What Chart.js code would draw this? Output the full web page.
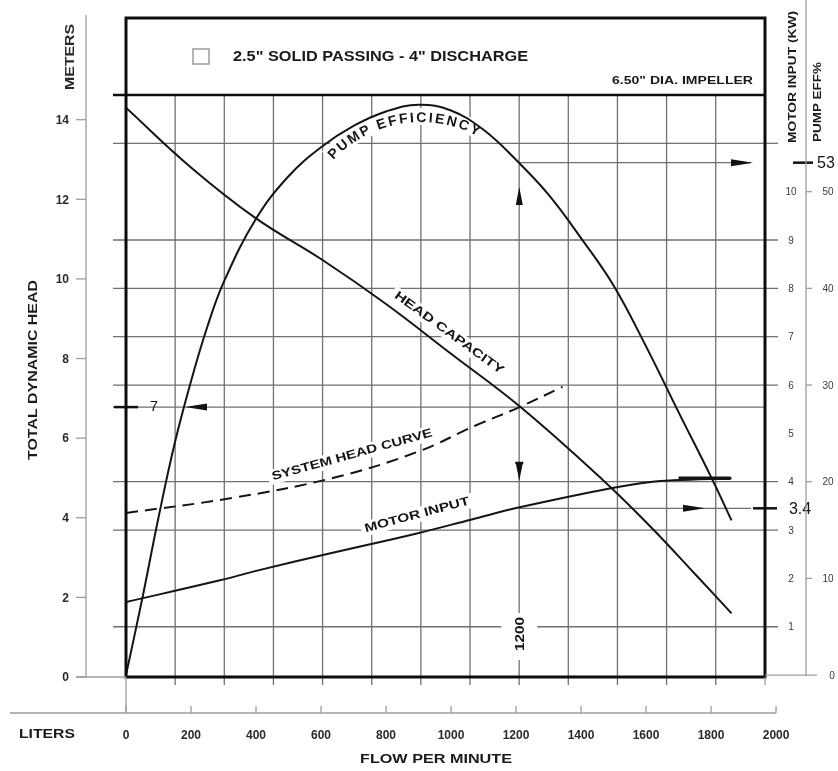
<!DOCTYPE html>
<html>
<head>
<meta charset="utf-8">
<script src="https://cdn.jsdelivr.net/npm/chart.js@4.4.0/dist/chart.umd.min.js"></script>
<style>
  html, body { margin: 0; padding: 0; background: #fff; }
  #wrap { width: 838px; height: 771px; }
</style>
</head>
<body>
<div id="wrap"><canvas id="pump" width="838" height="771"></canvas></div>
<script>
// flow (L/min) and curve values
const flowHead = [0, 200, 400, 600, 800, 1000, 1211, 1467, 1611, 1755, 1863];
const headCapacity = [14.3, 12.8, 11.52, 10.5, 9.37, 8.12, 6.8, 4.95, 3.8, 2.55, 1.6];

const flowEff = [0, 50, 100, 150, 200, 250, 300, 400, 500, 600, 700, 800, 900, 1000, 1100, 1200, 1300, 1400, 1500, 1600, 1700, 1800, 1863];
const pumpEff = [0, 7.9, 16.3, 24.0, 30.4, 36.0, 40.6, 47.2, 51.6, 54.6, 56.8, 58.3, 59.0, 58.4, 56.4, 53.3, 49.7, 45.2, 40.3, 34.0, 27.2, 20.5, 16.0];

const flowMotor = [0, 289, 397, 636, 895, 1064, 1211, 1488, 1620, 1682, 1863];
const motorInput = [1.51, 1.96, 2.15, 2.53, 2.93, 3.22, 3.47, 3.86, 4.0, 4.03, 4.07];
const flowMotorBar = [1700, 1860];
const motorBar = [4.07, 4.07];

const flowSystem = [0, 329, 636, 895, 1079, 1211, 1343];
const systemHead = [4.12, 4.5, 5.0, 5.65, 6.33, 6.78, 7.29];

// axis ticks
const headTicks = [0, 2, 4, 6, 8, 10, 12, 14];
const flowTicks = [0, 200, 400, 600, 800, 1000, 1200, 1400, 1600, 1800, 2000];
const kwTicks = [1, 2, 3, 4, 5, 6, 7, 8, 9, 10];
const effTicks = [0, 10, 20, 30, 40, 50];
const gridFlow = [151.2, 302.4, 453.6, 604.8, 756, 907.2, 1058.4, 1209.6, 1360.8, 1512, 1663.2, 1814.4];
const gridKW = [1, 3, 4, 6, 7, 8, 9, 11];

// duty point markers
const dutyFlow = 1210;
const dutyFlowLabel = '1200';
const dutyHead = 6.78;
const dutyHeadLabel = '7';
const dutyEff = 53;
const dutyEffLabel = '53';
const dutyKW = 3.45;
const dutyKWLabel = '3.4';

const FONT = '"Liberation Sans", Arial, sans-serif';

function pts(xs, ys) {
  return xs.map((v, i) => ({ x: v, y: ys[i] }));
}

function seg(ctx, x1, y1, x2, y2) {
  ctx.beginPath();
  ctx.moveTo(x1, y1);
  ctx.lineTo(x2, y2);
  ctx.stroke();
}

function rotText(ctx, txt, cx, cy, ang, font, w, color) {
  ctx.save();
  ctx.translate(cx, cy);
  ctx.rotate(ang * Math.PI / 180);
  ctx.font = font;
  ctx.fillStyle = color || '#151515';
  ctx.textAlign = 'center';
  ctx.textBaseline = 'middle';
  if (w) {
    const m = ctx.measureText(txt).width;
    ctx.scale(w / m, 1);
  }
  ctx.fillText(txt, 0, 0);
  ctx.restore();
}

function knock(ctx, cx, cy, ang, w, h) {
  ctx.save();
  ctx.translate(cx, cy);
  ctx.rotate(ang * Math.PI / 180);
  ctx.fillStyle = '#fff';
  ctx.fillRect(-w / 2, -h / 2, w, h);
  ctx.restore();
}

// text along an arc, baseline on circle (cx, cy, r) from angle a0 to a1 (deg, 0 = top)
function arcText(ctx, txt, cx, cy, r, a0, a1, font, knockOnly) {
  ctx.save();
  ctx.font = font;
  const chars = [...txt];
  const widths = chars.map(c => ctx.measureText(c).width);
  const total = widths.reduce((s, v) => s + v, 0);
  const span = (a1 - a0) * Math.PI / 180 * r;
  const extra = (span - total) / (chars.length - 1);
  let s = 0;
  chars.forEach((c, i) => {
    const ang = a0 * Math.PI / 180 + (s + widths[i] / 2) / r;
    const px = cx + r * Math.sin(ang);
    const py = cy - r * Math.cos(ang);
    ctx.save();
    ctx.translate(px, py);
    ctx.rotate(ang);
    if (knockOnly) {
      ctx.fillStyle = '#fff';
      ctx.fillRect(-widths[i] / 2 - 2, -14, widths[i] + 4, 17);
    } else {
      ctx.fillStyle = '#151515';
      ctx.textAlign = 'center';
      ctx.textBaseline = 'alphabetic';
      ctx.fillText(c, 0, 0);
    }
    ctx.restore();
    s += widths[i] + extra;
  });
  ctx.restore();
}

function arrow(ctx, tipX, tipY, dir, len, half) {
  ctx.beginPath();
  ctx.moveTo(tipX, tipY);
  if (dir === 'left') { ctx.lineTo(tipX + len, tipY - half); ctx.lineTo(tipX + len, tipY + half); }
  if (dir === 'right') { ctx.lineTo(tipX - len, tipY - half); ctx.lineTo(tipX - len, tipY + half); }
  if (dir === 'up') { ctx.lineTo(tipX - half, tipY + len); ctx.lineTo(tipX + half, tipY + len); }
  if (dir === 'down') { ctx.lineTo(tipX - half, tipY - len); ctx.lineTo(tipX + half, tipY - len); }
  ctx.closePath();
  ctx.fill();
}

// rotated curve labels: text, centre, angle, width
const curveLabels = [
  { t: 'HEAD CAPACITY', x: 449, y: 333, a: 36, w: 132 },
  { t: 'SYSTEM HEAD CURVE', x: 352, y: 455, a: -15.5, w: 166 },
  { t: 'MOTOR INPUT', x: 417, y: 515, a: -15, w: 108 }
];
const arcLabel = { t: 'PUMP EFFICIENCY', cx: 421, cy: 242, r: 120, a0: -47, a1: 28 };

const decor = {
  id: 'decor',
  beforeDatasetsDraw(chart) {
    const { ctx, chartArea: a, scales } = chart;
    const { x, y, yKW, yEff } = scales;
    ctx.save();
    // vertical grid
    ctx.strokeStyle = '#707070';
    ctx.lineWidth = 1.3;
    gridFlow.forEach(v => {
      const px = x.getPixelForValue(v);
      seg(ctx, px, a.top, px, a.bottom + 8);
    });
    // horizontal grid
    gridKW.forEach(v => {
      const py = yKW.getPixelForValue(v);
      seg(ctx, a.left - 13, py, a.right + 13, py);
    });
    // duty point lines
    const dx = x.getPixelForValue(dutyFlow);
    const hy = y.getPixelForValue(dutyHead);
    seg(ctx, a.left - 13, hy, a.right, hy);
    const ey = yEff.getPixelForValue(dutyEff);
    seg(ctx, dx, ey, a.right - 14, ey);
    const ky = yKW.getPixelForValue(dutyKW);
    seg(ctx, dx, ky, a.right - 14, ky);

    // knock out grid behind labels
    curveLabels.forEach(l => knock(ctx, l.x, l.y, l.a, l.w + 8, 15));
    arcText(ctx, arcLabel.t, arcLabel.cx, arcLabel.cy, arcLabel.r, arcLabel.a0, arcLabel.a1, 'bold 14px ' + FONT, true);
    ctx.fillStyle = '#fff';
    ctx.fillRect(dx - 18, 613, 36, 47);
    ctx.restore();
  },
  afterDatasetsDraw(chart) {
    const { ctx, chartArea: a, scales } = chart;
    const { x, y, yKW, yEff } = scales;
    ctx.save();

    // curve labels
    curveLabels.forEach(l => rotText(ctx, l.t, l.x, l.y, l.a, 'bold 12px ' + FONT, l.w));
    arcText(ctx, arcLabel.t, arcLabel.cx, arcLabel.cy, arcLabel.r, arcLabel.a0, arcLabel.a1, 'bold 14px ' + FONT, false);

    // duty markers
    const dx = x.getPixelForValue(dutyFlow);
    const hy = y.getPixelForValue(dutyHead);
    const ey = yEff.getPixelForValue(dutyEff);
    const ky = yKW.getPixelForValue(dutyKW);
    ctx.fillStyle = '#111';
    ctx.strokeStyle = '#111';
    arrow(ctx, a.left + 59, hy, 'left', 22, 3.5);
    arrow(ctx, a.right - 12, ey, 'right', 22, 3.5);
    arrow(ctx, a.right - 60, ky, 'right', 22, 3.5);
    arrow(ctx, dx, 187, 'up', 18, 3.5);
    arrow(ctx, dx, 481, 'down', 18, 3.5);
    ctx.lineWidth = 2.5;
    seg(ctx, dx - 4, 463, dx + 4, 463);
    seg(ctx, a.left - 12, hy, a.left + 12, hy);
    seg(ctx, 793, ey, 813, ey);
    seg(ctx, a.right - 12, ky, a.right + 12, ky);
    rotText(ctx, dutyHeadLabel, 154, hy, 0, '15px ' + FONT);
    rotText(ctx, dutyEffLabel, 826, ey + 1, 0, '16px ' + FONT);
    rotText(ctx, dutyKWLabel, 800, ky + 1, 0, '16px ' + FONT);
    rotText(ctx, dutyFlowLabel, dx + 1, 634, -90, 'bold 12px ' + FONT, 34);

    // plot frame + header box
    ctx.strokeStyle = '#0c0c0c';
    ctx.lineWidth = 3;
    ctx.strokeRect(a.left, 18, a.right - a.left, a.bottom - 18);
    ctx.lineWidth = 2.5;
    seg(ctx, a.left - 13, a.top, a.right, a.top);

    // header texts
    ctx.strokeStyle = '#9a9a9a';
    ctx.lineWidth = 1.5;
    ctx.strokeRect(193, 49, 16, 15);
    ctx.fillStyle = '#1a1a1a';
    ctx.font = 'bold 15px ' + FONT;
    ctx.textBaseline = 'middle';
    ctx.textAlign = 'left';
    let t = '2.5" SOLID PASSING - 4" DISCHARGE';
    let m = ctx.measureText(t).width;
    ctx.save();
    ctx.translate(233, 57);
    ctx.scale(295 / m, 1);
    ctx.fillText(t, 0, 0);
    ctx.restore();
    t = '6.50" DIA. IMPELLER';
    ctx.font = 'bold 11px ' + FONT;
    m = ctx.measureText(t).width;
    ctx.save();
    ctx.translate(612, 81);
    ctx.scale(141 / m, 1);
    ctx.fillText(t, 0, 0);
    ctx.restore();

    // left axis (meters)
    ctx.strokeStyle = '#9c9c9c';
    ctx.lineWidth = 1.3;
    seg(ctx, 86, 15, 86, a.bottom);
    seg(ctx, 76, a.bottom, a.left, a.bottom);
    seg(ctx, a.left, a.bottom, a.left, 713);
    seg(ctx, a.right, a.bottom, a.right, a.bottom + 8);
    ctx.fillStyle = '#2a2a2a';
    ctx.font = 'bold 12px ' + FONT;
    ctx.textAlign = 'right';
    headTicks.forEach(v => {
      const py = y.getPixelForValue(v);
      seg(ctx, 76, py, 86, py);
      ctx.fillText(String(v), 69, py + 1);
    });
    rotText(ctx, 'METERS', 71, 57, -90, 'bold 12px ' + FONT, 66, '#2a2a2a');
    rotText(ctx, 'TOTAL DYNAMIC HEAD', 33, 370, -90, 'bold 13px ' + FONT, 180, '#1a1a1a');

    // bottom axis (flow)
    seg(ctx, 10, 713, x.getPixelForValue(2000), 713);
    ctx.textAlign = 'center';
    ctx.fillStyle = '#2a2a2a';
    flowTicks.forEach(v => {
      const px = x.getPixelForValue(v);
      seg(ctx, px, 706, px, 713);
      ctx.fillText(String(v), px, 736);
    });
    rotText(ctx, 'LITERS', 47, 735, 0, 'bold 12px ' + FONT, 56, '#1a1a1a');
    rotText(ctx, 'FLOW PER MINUTE', 436, 760, 0, 'bold 12px ' + FONT, 152, '#1a1a1a');

    // right axes (motor kW + pump efficiency)
    seg(ctx, 806, 0, 806, a.bottom - 1);
    seg(ctx, a.right, yEff.getPixelForValue(0), 817, yEff.getPixelForValue(0));
    ctx.font = '10px ' + FONT;
    ctx.fillStyle = '#3a3a3a';
    kwTicks.forEach(v => {
      ctx.fillText(String(v), 791, yKW.getPixelForValue(v) + 1);
    });
    effTicks.forEach(v => {
      const py = yEff.getPixelForValue(v);
      if (v > 0) seg(ctx, 806, py, 812, py);
      ctx.fillText(String(v), v === 0 ? 832 : 828, py + 1);
    });
    rotText(ctx, 'MOTOR INPUT (KW)', 793, 77, -90, 'bold 11px ' + FONT, 132, '#1a1a1a');
    rotText(ctx, 'PUMP EFF%', 818, 102, -90, 'bold 11px ' + FONT, 80, '#1a1a1a');

    ctx.restore();
  }
};

const lineStyle = {
  borderColor: '#141414',
  borderWidth: 2,
  pointRadius: 0,
  fill: false,
  tension: 0.4
};

new Chart(document.getElementById('pump'), {
  type: 'line',
  data: {
    datasets: [
      Object.assign({ label: 'Head Capacity', data: pts(flowHead, headCapacity), yAxisID: 'y' }, lineStyle),
      Object.assign({ label: 'Pump Efficiency', data: pts(flowEff, pumpEff), yAxisID: 'yEff' }, lineStyle),
      Object.assign({ label: 'Motor Input', data: pts(flowMotor, motorInput), yAxisID: 'yKW' }, lineStyle),
      Object.assign({ label: 'Motor Input max', data: pts(flowMotorBar, motorBar), yAxisID: 'yKW' }, lineStyle, { borderWidth: 3.5 }),
      Object.assign({ label: 'System Head Curve', data: pts(flowSystem, systemHead), yAxisID: 'y', borderDash: [12, 7] }, lineStyle)
    ]
  },
  options: {
    responsive: false,
    animation: false,
    devicePixelRatio: 1,
    layout: { padding: { left: 126, right: 73, top: 95, bottom: 94 } },
    plugins: { legend: { display: false }, tooltip: { enabled: false } },
    scales: {
      x: { type: 'linear', min: 0, max: 1966, display: false },
      y: { type: 'linear', min: 0, max: 14.62, display: false },
      yKW: { type: 'linear', min: -0.04, max: 12, display: false },
      yEff: { type: 'linear', min: -0.2, max: 60, display: false }
    }
  },
  plugins: [decor]
});
</script>
</body>
</html>
